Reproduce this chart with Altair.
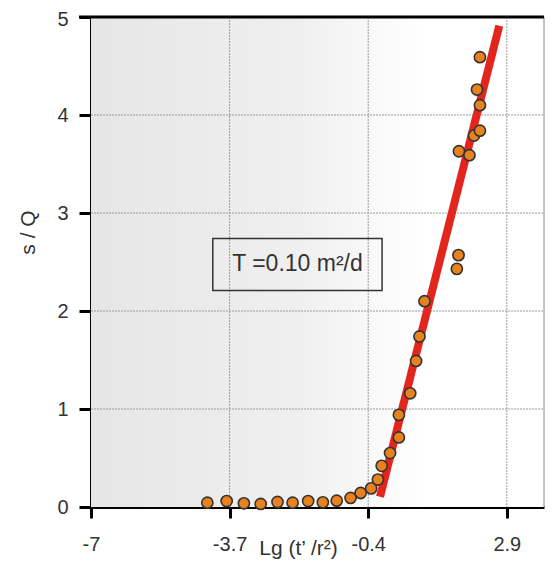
import altair as alt
import pandas as pd

# Observed points: Lg(t'/r^2) vs s/Q
lg_t = [-4.23, -3.77, -3.36, -2.96, -2.56, -2.20, -1.83, -1.48, -1.15, -0.82,
        -0.58, -0.33, -0.17, -0.08, 0.12, 0.33, 0.33, 0.60, 0.74, 0.82,
        0.94, 1.71, 1.75, 2.01, 1.76, 2.12, 2.26, 2.26, 2.19, 2.26]
s_q = [0.044, 0.061, 0.038, 0.031, 0.051, 0.044, 0.061, 0.048, 0.064, 0.092,
       0.143, 0.19, 0.28, 0.42, 0.55, 0.71, 0.94, 1.16, 1.49, 1.74,
       2.10, 2.43, 2.57, 3.59, 3.63, 3.79, 3.84, 4.10, 4.26, 4.59]

# Fitted straight line
fit_x = [-0.12, 2.72]
fit_y = [0.105, 4.91]

x_ticks = [-7, -3.7, -0.4, 2.9]
y_ticks = [0, 1, 2, 3, 4, 5]
x_grid = [-3.7, -0.4, 2.9]
y_grid = [1, 2, 3, 4]
x_domain = [-7, 3.785]
y_domain = [0, 5]

# Annotation box
box_x = [-4.1, -0.07]
box_y = [2.21, 2.74]
label_text = "T =0.10 m\u00b2/d"

W, H = 453, 490
FONT = "Liberation Sans"

xs = alt.Scale(domain=x_domain, nice=False, zero=False)
ys = alt.Scale(domain=y_domain, nice=False, zero=False)

xaxis = alt.Axis(values=x_ticks, title="Lg (t\u2019 /r\u00b2)", grid=False,
                 domainColor="black", domainWidth=3, tickColor="black",
                 tickWidth=3, tickSize=11, labelFontSize=20, labelColor="#333",
                 labelPadding=16, labelFont=FONT, labelFlush=False,
                 labelExpr="toString(datum.value)",
                 titleFont=FONT, titleFontSize=21, titleFontWeight="normal",
                 titleColor="#333", titleX=207, titleY=41,
                 titleBaseline="middle", titleAlign="center")
yaxis = alt.Axis(values=y_ticks, title="s / Q", grid=False,
                 domainColor="black", domainWidth=3, tickColor="black",
                 tickWidth=3, tickSize=12, labelFontSize=20, labelColor="#333",
                 labelPadding=11, labelFont=FONT, labelFlush=False,
                 labelOffset={"condition": {"test": "datum.value === 5", "value": 2},
                              "value": 0},
                 titleFont=FONT, titleFontSize=21, titleFontWeight="normal",
                 titleColor="#333", titleX=-63, titleY=215,
                 titleBaseline="middle", titleAlign="center")

bg_df = pd.DataFrame({"x": [x_domain[0]], "x2": [x_domain[1]],
                      "y": [y_domain[0]], "y2": [y_domain[1]]})
gradient = {"gradient": "linear", "x1": 0, "x2": 1, "y1": 0, "y2": 0,
            "stops": [{"offset": 0, "color": "#e6e6e6"},
                      {"offset": 0.45, "color": "#efefef"},
                      {"offset": 0.74, "color": "#ffffff"},
                      {"offset": 1, "color": "#ffffff"}]}
bg = alt.Chart(bg_df).mark_rect(fill=gradient).encode(
    x=alt.X("x:Q", scale=xs, axis=xaxis), x2="x2:Q",
    y=alt.Y("y:Q", scale=ys, axis=yaxis), y2="y2:Q")

xg = alt.Chart(pd.DataFrame({"x": x_grid})).mark_rule(
    color="#9a9a9a", strokeWidth=1, strokeDash=[2, 1]).encode(
    x=alt.X("x:Q", scale=xs, axis=xaxis), y=alt.value(0), y2=alt.value(H))
yg = alt.Chart(pd.DataFrame({"y": y_grid})).mark_rule(
    color="#9a9a9a", strokeWidth=1, strokeDash=[2, 1]).encode(
    y=alt.Y("y:Q", scale=ys, axis=yaxis), x=alt.value(0), x2=alt.value(W))

fit = alt.Chart(pd.DataFrame({"x": fit_x, "y": fit_y})).mark_line(
    color="#e3261d", strokeWidth=8, strokeCap="butt").encode(
    x=alt.X("x:Q", scale=xs, axis=xaxis), y=alt.Y("y:Q", scale=ys, axis=yaxis))

pts = alt.Chart(pd.DataFrame({"x": lg_t, "y": s_q})).mark_circle(
    size=125, color="#e8821e", opacity=1, stroke="#333333", strokeWidth=1.6).encode(
    x=alt.X("x:Q", scale=xs, axis=xaxis), y=alt.Y("y:Q", scale=ys, axis=yaxis))

box = alt.Chart(pd.DataFrame({"x": [box_x[0]], "x2": [box_x[1]],
                              "y": [box_y[0]], "y2": [box_y[1]]})).mark_rect(
    fillOpacity=0, stroke="#333333", strokeWidth=1.5).encode(
    x=alt.X("x:Q", scale=xs, axis=xaxis), x2="x2:Q",
    y=alt.Y("y:Q", scale=ys, axis=yaxis), y2="y2:Q")

txt = alt.Chart(pd.DataFrame({"x": [sum(box_x) / 2], "y": [sum(box_y) / 2],
                              "t": [label_text]})).mark_text(
    font=FONT, fontSize=23, color="#333333", align="center",
    baseline="middle").encode(
    x=alt.X("x:Q", scale=xs, axis=xaxis), y=alt.Y("y:Q", scale=ys, axis=yaxis),
    text="t:N")

top_border = alt.Chart(pd.DataFrame({"y": [y_domain[1]]})).mark_rule(
    color="black", strokeWidth=3).encode(
    y=alt.Y("y:Q", scale=ys, axis=yaxis), x=alt.value(-12), x2=alt.value(W))
right_border = alt.Chart(pd.DataFrame({"x": [x_domain[1]]})).mark_rule(
    color="#8a8a8a", strokeWidth=1).encode(
    x=alt.X("x:Q", scale=xs, axis=xaxis), y=alt.value(0), y2=alt.value(H))

chart = alt.layer(bg, xg, yg, right_border, fit, pts, box, txt, top_border).properties(
    width=W, height=H,
    autosize=alt.AutoSizeParams(type="none"),
    padding={"left": 83, "top": 9, "right": 1, "bottom": 54},
    background="white",
).configure_view(stroke=None)

chart.save("out.html", embed_options={"renderer": "svg", "actions": False})
